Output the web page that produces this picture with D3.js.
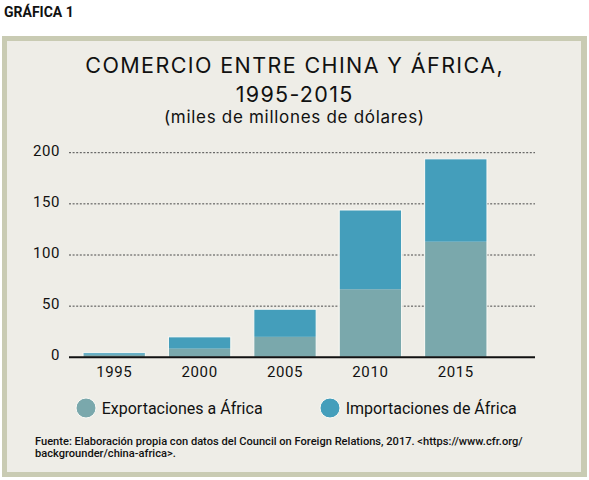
<!DOCTYPE html>
<html lang="es">
<head>
  <meta charset="UTF-8" />
  <title>Comercio entre China y África</title>
  <script src="https://d3js.org/d3.v7.js"></script>
  <style>
    body { margin: 0; background: #fff; }
    svg text { font-family: Roboto, "Noto Sans", sans-serif; }
    svg text.title { font-family: Inter, Roboto, sans-serif; }
  </style>
</head>
<body>
  <div id="graph-space"></div>
</body>
<script>
  // Data (miles de millones de dólares)
  const years = ["1995", "2000", "2005", "2010", "2015"]
  const exportsAfrica = [2.5, 8.5, 20, 66.5, 113]
  const importsAfrica = [2, 11.5, 27, 77.5, 81]
  const yTicks = [0, 50, 100, 150, 200]
  const seriesNames = ["Exportaciones a África", "Importaciones de África"]
  const seriesColors = ["#7aa8ac", "#449ebb"]

  const width = 589
  const height = 480

  const svg = d3.select("#graph-space")
    .append("svg")
    .attr("width", width)
    .attr("height", height)

  // header label
  svg.append("text")
    .attr("x", 4)
    .attr("y", 17)
    .style("font-size", "14px")
    .style("font-weight", "700")
    .attr("fill", "#111")
    .text("GRÁFICA 1")

  // panel with border
  svg.append("rect")
    .attr("x", 2).attr("y", 36)
    .attr("width", 585).attr("height", 441)
    .attr("fill", "#c9cbb3")
  svg.append("rect")
    .attr("x", 7).attr("y", 41)
    .attr("width", 574).attr("height", 431)
    .attr("fill", "#eeede7")

  // titles (letter-spacing shifts centre, so nudge x by half of it)
  const cx = 294
  const titles = [
    { text: "COMERCIO ENTRE CHINA Y ÁFRICA,", y: 72.7, size: 21.5, ls: 1.4 },
    { text: "1995-2015", y: 101.7, size: 21.5, ls: 1.3 },
    { text: "(miles de millones de dólares)", y: 122.5, size: 17, ls: 0.7 }
  ]
  svg.append("g")
    .selectAll("text")
    .data(titles)
    .join("text")
    .attr("class", "title")
    .attr("x", d => cx + d.ls / 2)
    .attr("y", d => d.y)
    .attr("text-anchor", "middle")
    .style("font-size", d => d.size + "px")
    .style("letter-spacing", d => d.ls + "px")
    .attr("fill", "#111")
    .text(d => d.text)

  // scales
  const xScale = d3.scaleBand()
    .domain(years)
    .range([71.5, 498.5])
    .paddingInner(0.27)
    .paddingOuter(0.135)

  const yScale = d3.scaleLinear()
    .domain([0, 200])
    .range([357.3, 152.7])

  const plotLeft = 69
  const plotRight = 535

  // gridlines
  svg.append("g")
    .selectAll("line")
    .data(yTicks.filter(d => d > 0))
    .join("line")
    .attr("x1", plotLeft)
    .attr("x2", plotRight)
    .attr("y1", d => yScale(d))
    .attr("y2", d => yScale(d))
    .attr("stroke", "#4a4a4a")
    .attr("stroke-width", 1)
    .attr("stroke-dasharray", "2,1.6")

  // y axis labels
  const yAxis = svg.append("g")
    .attr("transform", `translate(${plotLeft},0)`)
    .call(d3.axisLeft(yScale).tickValues(yTicks).tickSize(0).tickPadding(9))
  yAxis.select(".domain").remove()
  yAxis.selectAll("text")
    .attr("dy", "0.17em")
    .style("font-size", "15px")
    .style("letter-spacing", "0.6px")
    .attr("fill", "#111")

  // stacked bars
  const table = years.map((y, i) => ({ year: y, exp: exportsAfrica[i], imp: importsAfrica[i] }))
  const stacked = d3.stack().keys(["exp", "imp"])(table)

  svg.append("g")
    .selectAll("g")
    .data(stacked)
    .join("g")
    .attr("fill", (d, i) => seriesColors[i])
    .selectAll("rect")
    .data(d => d)
    .join("rect")
    .attr("x", d => xScale(d.data.year))
    .attr("y", d => yScale(d[1]))
    .attr("width", xScale.bandwidth())
    .attr("height", d => yScale(d[0]) - yScale(d[1]))

  // light outline around each bar
  svg.append("g")
    .selectAll("rect")
    .data(table)
    .join("rect")
    .attr("x", d => xScale(d.year))
    .attr("y", d => yScale(d.exp + d.imp))
    .attr("width", xScale.bandwidth())
    .attr("height", d => yScale(0) - yScale(d.exp + d.imp))
    .attr("fill", "none")
    .attr("stroke", "#fbfaf6")
    .attr("stroke-width", 1)

  // baseline
  svg.append("line")
    .attr("x1", plotLeft).attr("x2", plotRight)
    .attr("y1", yScale(0)).attr("y2", yScale(0))
    .attr("stroke", "#111")
    .attr("stroke-width", 2)

  // x axis labels
  const xAxis = svg.append("g")
    .attr("transform", `translate(0,${yScale(0)})`)
    .call(d3.axisBottom(xScale).tickSize(0))
  xAxis.select(".domain").remove()
  xAxis.selectAll("text")
    .attr("y", 20.2)
    .attr("dy", 0)
    .style("font-size", "15px")
    .style("letter-spacing", "0.6px")
    .attr("fill", "#111")

  // legend
  const legendX = [86, 330]
  const legend = svg.append("g")
    .selectAll("g")
    .data(seriesNames)
    .join("g")
    .attr("transform", (d, i) => `translate(${legendX[i]},408)`)
  legend.append("circle")
    .attr("r", 10)
    .attr("fill", (d, i) => seriesColors[i])
    .attr("stroke", "#fbfaf6")
    .attr("stroke-width", 1)
  legend.append("text")
    .attr("x", 15.7)
    .attr("y", 6)
    .style("font-size", "16px")
    .attr("fill", "#111")
    .text(d => d)

  // source note
  const source = svg.append("text")
    .attr("x", 35)
    .attr("y", 445)
    .style("font-size", "11.1px")
    .style("font-weight", "500")
    .attr("fill", "#111")
  source.append("tspan")
    .attr("x", 35)
    .text("Fuente: Elaboración propia con datos del Council on Foreign Relations, 2017. <https://www.cfr.org/")
  source.append("tspan")
    .attr("x", 35)
    .attr("dy", 12)
    .text("backgrounder/china-africa>.")
</script>
</html>
